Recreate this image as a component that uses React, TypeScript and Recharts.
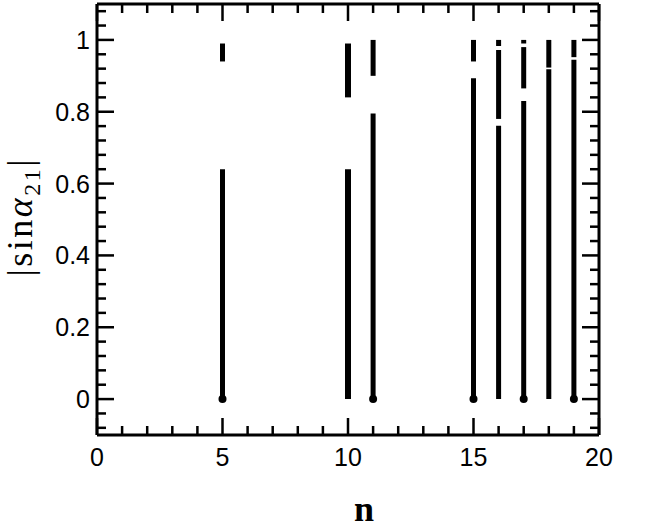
import { ComposedChart, Line, XAxis, YAxis } from 'recharts';

// sample index n and the |sin a21| ranges filled at each n (lo, hi)
const nValues = [5, 10, 11, 15, 16, 17, 18, 19];
const rangesN5 = [[0, 0.64], [0.94, 0.99]];
const rangesN10 = [[0, 0.64], [0.84, 0.99]];
const rangesN11 = [[0, 0.795], [0.9, 1.0]];
const rangesN15 = [[0, 0.893], [0.94, 1.0]];
const rangesN16 = [[0, 0.761], [0.78, 0.972], [0.983, 1.0]];
const rangesN17 = [[0, 0.83], [0.865, 0.98], [0.99, 1.0]];
const rangesN18 = [[0, 0.918], [0.923, 1.0]];
const rangesN19 = [[0, 0.945], [0.952, 1.0]];
const ranges = [rangesN5, rangesN10, rangesN11, rangesN15, rangesN16, rangesN17, rangesN18, rangesN19];
// which n have a marker at zero
const dotAtZero = [5, 11, 15, 17, 19];

const xMajorTicks = [0, 5, 10, 15, 20];
const yMajorTicks = [0, 0.2, 0.4, 0.6, 0.8, 1];
const xTicks = Array.from({ length: 21 }, (_, i) => i);
const yTicks = Array.from({ length: 30 }, (_, i) => Math.round((-0.08 + i * 0.04) * 100) / 100);

const isMajor = (list: number[], v: number) => list.some(t => Math.abs(t - v) < 1e-6);

const BottomTick = (props: any) => {
  const { x, y, payload } = props;
  const major = isMajor(xMajorTicks, payload.value);
  return (
    <g>
      <line x1={x} y1={y} x2={x} y2={y - (major ? 17 : 9)} stroke="#000" strokeWidth={2.5} />
      {major && (
        <text x={x} y={y + 31} textAnchor="middle" fontFamily="Liberation Sans, Arial" fontSize={25} fill="#000">
          {payload.value}
        </text>
      )}
    </g>
  );
};

const TopTick = (props: any) => {
  const { x, y, payload } = props;
  const major = isMajor(xMajorTicks, payload.value);
  return <line x1={x} y1={y} x2={x} y2={y + (major ? 17 : 9)} stroke="#000" strokeWidth={2.5} />;
};

const LeftTick = (props: any) => {
  const { x, y, payload } = props;
  const major = isMajor(yMajorTicks, payload.value);
  return (
    <g>
      <line x1={x} y1={y} x2={x + (major ? 17 : 9)} y2={y} stroke="#000" strokeWidth={2.5} />
      {major && (
        <text x={x - 7} y={y + 9} textAnchor="end" fontFamily="Liberation Sans, Arial" fontSize={25} fill="#000">
          {String(payload.value)}
        </text>
      )}
    </g>
  );
};

const RightTick = (props: any) => {
  const { x, y, payload } = props;
  const major = isMajor(yMajorTicks, payload.value);
  return <line x1={x} y1={y} x2={x - (major ? 17 : 9)} y2={y} stroke="#000" strokeWidth={2.5} />;
};

const YTitle = () => (
  <text
    x={32}
    y={218}
    transform="rotate(-90, 32, 218)"
    textAnchor="middle"
    fontFamily="Liberation Serif, Times New Roman, serif"
    fontSize={36}
    fill="#000"
    textLength={117}
    lengthAdjust="spacing"
  >
    |sin<tspan fontStyle="italic">α</tspan>
    <tspan fontSize={24} dy={8}>21</tspan>
    <tspan dy={-8}>|</tspan>
  </text>
);

const XTitle = () => (
  <text x={364} y={521} textAnchor="middle" fontFamily="Liberation Serif, Times New Roman, serif" fontSize={36} fontWeight={600} fill="#000">
    n
  </text>
);

export default function App() {
  const segments = nValues.flatMap((n, i) =>
    ranges[i].map(([lo, hi], j) => ({ n, key: `${n}-${j}`, data: [{ x: n, y: lo }, { x: n, y: hi }], withDot: lo === 0 && dotAtZero.includes(n) }))
  );

  return (
    <div style={{ position: 'absolute', left: 0, top: 0, width: 652, height: 530, background: '#fff' }}>
      <ComposedChart width={652} height={530} margin={{ top: 3, right: 52, bottom: 0, left: 0 }}>
        <XAxis
          xAxisId={0}
          dataKey="x"
          type="number"
          domain={[0, 20]}
          ticks={xTicks}
          interval={0}
          allowDataOverflow
          height={95}
          tickSize={0}
          tickMargin={0}
          tickLine={false}
          axisLine={{ stroke: '#000', strokeWidth: 3 }}
          tick={<BottomTick />}
          label={{ content: () => <XTitle /> }}
        />
        <XAxis
          xAxisId="top"
          orientation="top"
          dataKey="x"
          type="number"
          domain={[0, 20]}
          ticks={xTicks}
          interval={0}
          allowDataOverflow
          height={1}
          tickSize={0}
          tickMargin={0}
          tickLine={false}
          axisLine={{ stroke: '#000', strokeWidth: 3 }}
          tick={<TopTick />}
        />
        <YAxis
          yAxisId={0}
          dataKey="y"
          type="number"
          domain={[-0.1, 1.1]}
          ticks={yTicks}
          interval={0}
          allowDataOverflow
          width={97}
          tickSize={0}
          tickMargin={0}
          tickLine={false}
          axisLine={{ stroke: '#000', strokeWidth: 3 }}
          tick={<LeftTick />}
          label={{ content: () => <YTitle /> }}
        />
        <YAxis
          yAxisId="right"
          orientation="right"
          dataKey="y"
          type="number"
          domain={[-0.1, 1.1]}
          ticks={yTicks}
          interval={0}
          allowDataOverflow
          width={1}
          tickSize={0}
          tickMargin={0}
          tickLine={false}
          axisLine={{ stroke: '#000', strokeWidth: 3 }}
          tick={<RightTick />}
        />
        {segments.map(s => (
          <Line
            key={s.key}
            xAxisId={0}
            yAxisId={0}
            data={s.data}
            dataKey="y"
            stroke="#000"
            strokeWidth={s.n === 10 ? 6 : 5}
            strokeLinecap="butt"
            isAnimationActive={false}
            legendType="none"
            dot={(p: any) =>
              s.withDot && p.payload.y === 0 ? (
                <circle key={`d-${s.key}-${p.index}`} cx={p.cx} cy={p.cy} r={4} fill="#000" />
              ) : (
                <g key={`d-${s.key}-${p.index}`} />
              )
            }
            activeDot={false}
          />
        ))}
      </ComposedChart>
    </div>
  );
}
